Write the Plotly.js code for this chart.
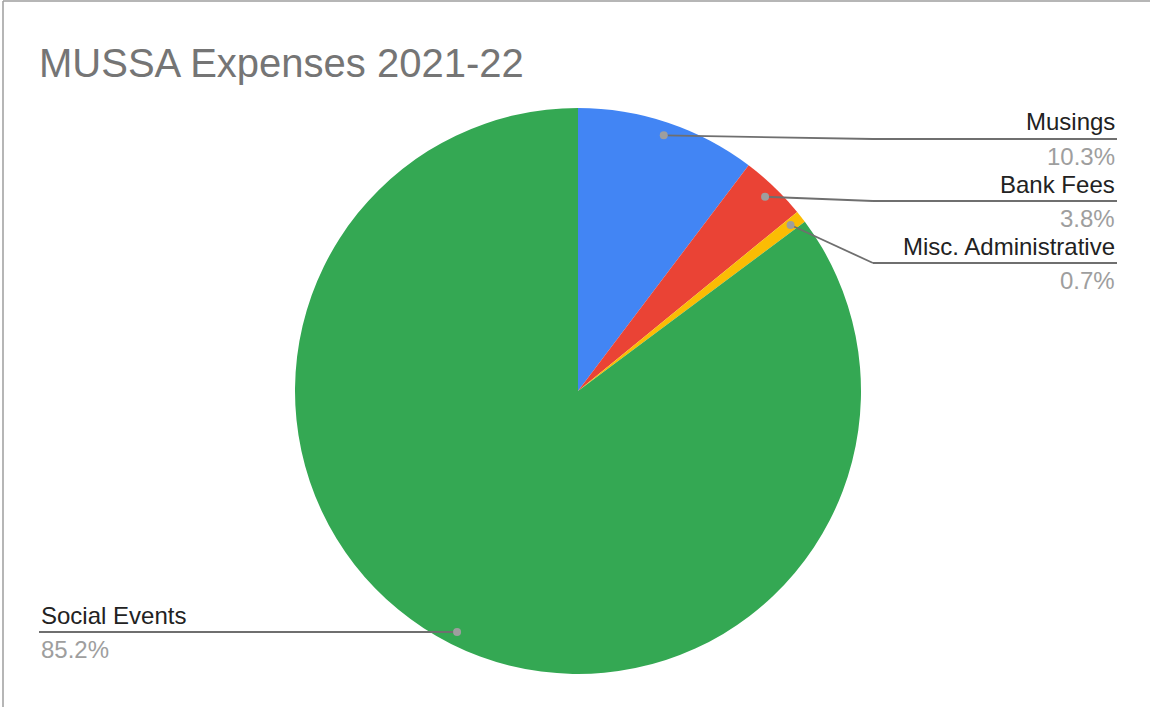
<!DOCTYPE html>
<html>
<head>
<meta charset="utf-8">
<script src="https://cdn.plot.ly/plotly-3.0.1.min.js"></script>
<style>html,body{margin:0;padding:0;background:#fff;}#chart{width:1150px;height:707px;}</style>
</head>
<body>
<div id="chart"></div>
<script>
// ---- data ----
var categories = ["Musings", "Bank Fees", "Misc. Administrative", "Social Events"];
var values = [10.3, 3.8, 0.7, 85.2];
var pctLabels = ["10.3%", "3.8%", "0.7%", "85.2%"];
var colors = ["#4285F4", "#EA4335", "#FBBC04", "#34A853"];

// ---- layout geometry (pixels) ----
var W = 1150, H = 707;
var cx = 578, cy = 391, R = 283;
var dotFrac = 0.953;
var labelRows = [139, 201, 263, 632];
var labelSide = ["right", "right", "right", "left"];
var rightElbowX = 873, rightEndX = 1117, leftEndX = 39;

function px(x){ return x / W; }
function py(y){ return 1 - y / H; }

var total = values.reduce(function(a,b){return a+b;}, 0);
var shapes = [], annotations = [];
var cum = 0;
for (var i = 0; i < values.length; i++) {
  var mid = (cum + values[i] / 2) / total * 2 * Math.PI;
  cum += values[i];
  var dx = cx + Math.sin(mid) * R * dotFrac;
  var dy = cy - Math.cos(mid) * R * dotFrac;
  var ly = labelRows[i];
  if (labelSide[i] === "right") {
    shapes.push({type:"line", xref:"paper", yref:"paper", x0:px(dx), y0:py(dy), x1:px(rightElbowX), y1:py(ly), line:{color:"#6f6f6f", width:1.8}});
    shapes.push({type:"line", xref:"paper", yref:"paper", x0:px(rightElbowX), y0:py(ly), x1:px(rightEndX), y1:py(ly), line:{color:"#6f6f6f", width:1.8}});
  } else {
    shapes.push({type:"line", xref:"paper", yref:"paper", x0:px(leftEndX), y0:py(ly), x1:px(dx), y1:py(ly), line:{color:"#6f6f6f", width:1.8}});
  }
  shapes.push({type:"circle", xref:"paper", yref:"paper", x0:px(dx-4), y0:py(dy-4), x1:px(dx+4), y1:py(dy+4), fillcolor:"#9e9e9e", line:{width:0}});
  var ax = labelSide[i] === "right" ? rightEndX : leftEndX;
  var xa = labelSide[i] === "right" ? "right" : "left";
  annotations.push({xref:"paper", yref:"paper", x:px(ax), y:py(ly-17), xanchor:xa, yanchor:"middle", showarrow:false,
    text:categories[i], font:{family:"Liberation Sans, Arial, sans-serif", size:24, color:"#222222"}});
  annotations.push({xref:"paper", yref:"paper", x:px(ax), y:py(ly+17), xanchor:xa, yanchor:"middle", showarrow:false,
    text:pctLabels[i], font:{family:"Liberation Sans, Arial, sans-serif", size:24, color:"#9e9e9e"}});
}
// frame lines
shapes.push({type:"line", xref:"paper", yref:"paper", x0:px(3), y0:py(1), x1:px(1150), y1:py(1), line:{color:"#9e9e9e", width:1.5}});
shapes.push({type:"line", xref:"paper", yref:"paper", x0:px(3), y0:py(1), x1:px(3), y1:py(707), line:{color:"#9e9e9e", width:1.5}});

var trace = {
  type: "pie",
  labels: categories,
  values: values,
  marker: {colors: colors, line: {width: 0}},
  sort: false,
  direction: "clockwise",
  rotation: 0,
  textinfo: "none",
  hoverinfo: "skip",
  domain: {x: [px(cx - R), px(cx + R)], y: [py(cy + R), py(cy - R)]}
};

var layout = {
  width: W, height: H,
  margin: {l:0, r:0, t:0, b:0},
  paper_bgcolor: "#ffffff",
  showlegend: false,
  title: {text: "MUSSA Expenses 2021-22", x: px(39), xanchor: "left", xref: "paper", y: py(63), yanchor: "middle", yref: "paper",
          font: {family: "Liberation Sans, Arial, sans-serif", size: 40, color: "#757575"}},
  shapes: shapes,
  annotations: annotations
};

Plotly.newPlot("chart", [trace], layout, {displayModeBar: false, staticPlot: true});
</script>
</body>
</html>
